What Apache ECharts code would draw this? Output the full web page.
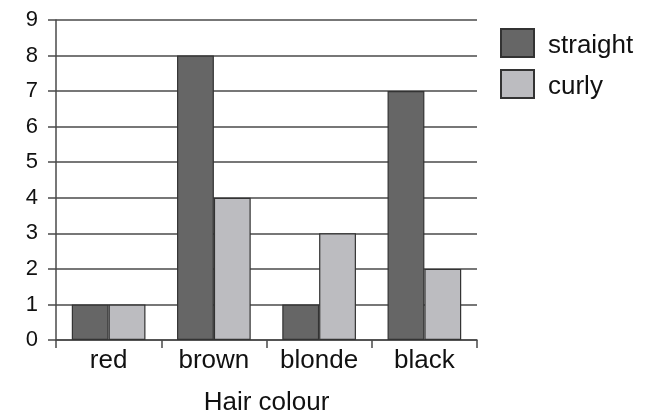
<!DOCTYPE html>
<html><head><meta charset="utf-8">
<script src="https://cdn.jsdelivr.net/npm/echarts@6/dist/echarts.min.js"></script>
<style>html,body{margin:0;padding:0;background:#fff}#c{width:655px;height:414px}</style>
</head><body><div id="c"></div>
<script>
const categories = ['red', 'brown', 'blonde', 'black'];
const straight = [1, 8, 1, 7];
const curly = [1, 4, 3, 2];
const yTicks = [0, 9, 1];

const chart = echarts.init(document.getElementById('c'), null, {renderer: 'canvas'});
const font = 'Liberation Sans, Arial, sans-serif';
const lineCol = '#4a4a4a';
chart.setOption({
  animation: false,
  backgroundColor: '#fff',
  textStyle: {fontFamily: font},
  grid: {left: 56, right: 178, top: 20, bottom: 74, containLabel: false, outerBoundsMode: 'none'},
  legend: {
    orient: 'vertical', left: 500, top: 28, itemWidth: 33, itemHeight: 28, itemGap: 10,
    icon: 'rect', padding: 0,
    formatter: '{a|{name}}',
    textStyle: {
      fontSize: 26, color: '#111', fontFamily: font,
      rich: {a: {fontSize: 26, color: '#111', fontFamily: font, padding: [6, 0, 0, 9]}}
    },
    data: ['straight', 'curly']
  },
  xAxis: {
    type: 'category', data: categories,
    name: 'Hair colour', nameLocation: 'middle', nameGap: 50,
    nameTextStyle: {fontSize: 26, color: '#111', fontFamily: font},
    axisLine: {show: true, lineStyle: {color: lineCol, width: 1.5}},
    axisTick: {show: true, alignWithLabel: false, length: 8, lineStyle: {color: lineCol, width: 1.5}},
    axisLabel: {fontSize: 26, color: '#111', margin: 8, fontFamily: font}
  },
  yAxis: {
    type: 'value', min: yTicks[0], max: yTicks[1], interval: yTicks[2],
    axisLine: {show: true, lineStyle: {color: lineCol, width: 1.5}},
    axisTick: {show: true, length: 8, lineStyle: {color: lineCol, width: 1.5}},
    axisLabel: {fontSize: 22, color: '#111', margin: 18, fontFamily: font},
    splitLine: {show: true, lineStyle: {color: lineCol, width: 1.5}}
  },
  series: [
    {name: 'straight', type: 'bar', data: straight, barGap: '0%', barCategoryGap: '30%',
     itemStyle: {color: '#666666', borderColor: '#333', borderWidth: 1.2}},
    {name: 'curly', type: 'bar', data: curly, barGap: '0%', barCategoryGap: '30%',
     itemStyle: {color: '#bcbcc0', borderColor: '#333', borderWidth: 1.2}}
  ]
});
</script></body></html>
